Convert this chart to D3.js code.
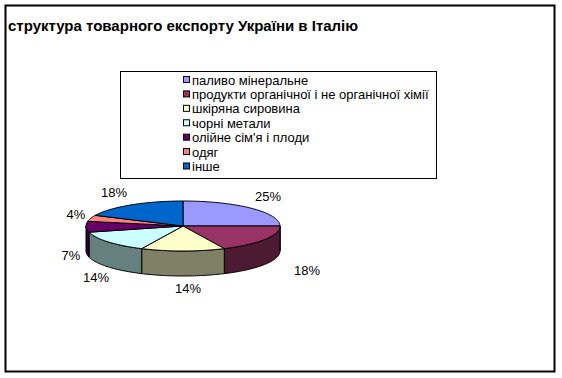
<!DOCTYPE html>
<html lang="uk">
<head>
<meta charset="UTF-8">
<title>структура товарного експорту України в Італію</title>
<script src="https://cdn.jsdelivr.net/npm/d3@7"></script>
<style>
  body { margin: 0; background: #fff; }
  text { font-family: "Liberation Sans", Arial, sans-serif; }
</style>
</head>
<body>
<script>
// data
var categories = ["паливо мінеральне", "продукти органічної і не органічної хімії",
    "шкіряна сировина", "чорні метали", "олійне сім'я і плоди", "одяг", "інше"];
var shares = [25, 18, 14, 14, 7, 4, 18];
var colors = ["#9999ff", "#993366", "#ffffcc", "#ccffff", "#660066", "#ff8080", "#0066cc"];
var labelPos = [[268, 201], [307, 275], [188, 293], [96, 282], [71, 260], [76, 219], [114, 197]];

var W = 562, H = 378;
var cx = 183, cy = 226, rx = 97, ry = 25, depth = 25;

var svg = d3.select("body").append("svg")
    .attr("width", W).attr("height", H);

svg.append("rect")
    .attr("x", 5.5).attr("y", 5.5).attr("width", 549).attr("height", 366)
    .attr("fill", "#fff").attr("stroke", "#000").attr("stroke-width", 2);

svg.append("text")
    .attr("x", 8).attr("y", 31)
    .style("font-size", "15px").style("font-weight", "bold")
    .text("структура товарного експорту України в Італію");

// legend
var lg = svg.append("g");
lg.append("rect")
    .attr("x", 120.5).attr("y", 71.5).attr("width", 316).attr("height", 107)
    .attr("fill", "#fff").attr("stroke", "#000").attr("stroke-width", 1);

var rowY = d3.scaleLinear().domain([0, 6]).range([80, 166.5]);
var items = lg.selectAll("g.item").data(categories).enter().append("g");
items.append("rect")
    .attr("x", 183.5).attr("y", function(d, i) { return rowY(i) - 3.5; })
    .attr("width", 6).attr("height", 6)
    .attr("fill", function(d, i) { return colors[i]; })
    .attr("stroke", "#000").attr("stroke-width", 1);
items.append("text")
    .attr("x", 192).attr("y", function(d, i) { return rowY(i) + 4.5; })
    .style("font-size", "13px")
    .text(function(d) { return d; });

// 3d pie
var pie = d3.pie().sort(null).value(function(d) { return d; });
var arcs = pie(shares);

function pt(a, dy) {
    return [cx + rx * Math.sin(a), cy - ry * Math.cos(a) + dy];
}

function arcPoints(a0, a1, dy) {
    var n = Math.max(2, Math.ceil((a1 - a0) / 0.02));
    var pts = [];
    for (var k = 0; k <= n; k++) pts.push(pt(a0 + (a1 - a0) * k / n, dy));
    return pts;
}

var line = d3.line();

// side walls (front half only)
var sides = svg.append("g");
arcs.forEach(function(d, i) {
    var a0 = Math.max(d.startAngle, Math.PI / 2);
    var a1 = Math.min(d.endAngle, 3 * Math.PI / 2);
    if (a1 <= a0) return;
    var top = arcPoints(a0, a1, 0);
    var bot = arcPoints(a0, a1, depth).reverse();
    var c = d3.color(colors[i]);
    var dark = d3.rgb(c.r * 0.5, c.g * 0.5, c.b * 0.5);
    sides.append("path")
        .attr("d", line(top.concat(bot)) + "Z")
        .attr("fill", dark)
        .attr("stroke", "#000").attr("stroke-width", 1)
        .attr("stroke-linejoin", "round");
});

// top faces
var tops = svg.append("g");
arcs.forEach(function(d, i) {
    var p = [[cx, cy]].concat(arcPoints(d.startAngle, d.endAngle, 0));
    tops.append("path")
        .attr("d", line(p) + "Z")
        .attr("fill", colors[i])
        .attr("stroke", "#000").attr("stroke-width", 1)
        .attr("stroke-linejoin", "round");
});

// percentage labels
svg.append("g").selectAll("text").data(arcs).enter().append("text")
    .attr("x", function(d, i) { return labelPos[i][0]; })
    .attr("y", function(d, i) { return labelPos[i][1]; })
    .attr("text-anchor", "middle")
    .style("font-size", "13px")
    .text(function(d) { return d.data + "%"; });
</script>
</body>
</html>
